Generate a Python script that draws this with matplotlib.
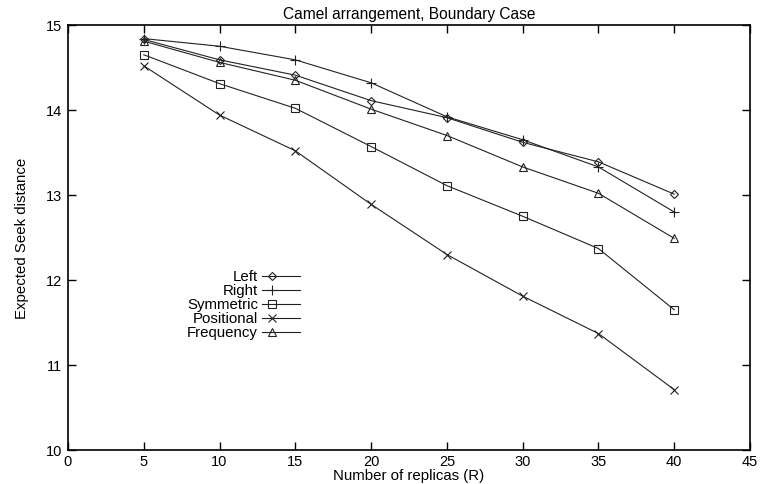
import matplotlib
matplotlib.use("Agg")
import matplotlib.pyplot as plt
from matplotlib.lines import Line2D

plt.rcParams['font.family'] = ['Liberation Sans', 'DejaVu Sans']

replicas = [5, 10, 15, 20, 25, 30, 35, 40]
left = [14.83, 14.59, 14.41, 14.11, 13.91, 13.62, 13.39, 13.01]
right = [14.84, 14.75, 14.59, 14.32, 13.92, 13.65, 13.33, 12.80]
symmetric = [14.65, 14.31, 14.02, 13.57, 13.11, 12.75, 12.37, 11.65]
positional = [14.52, 13.94, 13.52, 12.89, 12.30, 11.81, 11.37, 10.71]
frequency = [14.81, 14.56, 14.35, 14.01, 13.70, 13.33, 13.02, 12.49]
labels = ["Left", "Right", "Symmetric", "Positional", "Frequency"]
xticks = [0, 5, 10, 15, 20, 25, 30, 35, 40, 45]
yticks = [10, 11, 12, 13, 14, 15]

series = [left, right, symmetric, positional, frequency]
markers = ['D', '+', 's', 'x', '^']
msizes = [4, 7, 6, 6, 6]

fig = plt.figure(figsize=(7.62, 4.85), dpi=100)
ax = fig.add_axes([68/762, 1-451/485, (750-68)/762, (451-26)/485])

for vals, m, ms in zip(series, markers, msizes):
    ax.plot(replicas, vals, color='#222222', lw=0.8, marker=m, ms=ms,
            mfc='none', mec='#222222', mew=0.8)

ax.set_xlim(0, 45)
ax.set_ylim(10, 15)
ax.set_xticks(xticks)
ax.set_yticks(yticks)
ax.tick_params(direction='in', top=True, right=True, length=6, width=1,
               labelsize=10.5, pad=4)
ax.tick_params(axis='x', pad=3)
for s in ax.spines.values():
    s.set_linewidth(1.2)
ax.set_title("Camel arrangement, Boundary Case", fontsize=11.2, pad=5)
ax.set_xlabel("Number of replicas (R)", fontsize=10.8, labelpad=0)
ax.set_ylabel("Expected Seek distance", fontsize=10.8, labelpad=12)

# gnuplot-style key: label on left, sample on right
row_y = [277, 291, 305, 319, 333]
for lab, m, ms, py in zip(labels, markers, msizes, row_y):
    yf = (451 - py) / 425
    ax.text((258 - 68) / 682, yf, lab, transform=ax.transAxes, ha='right',
            va='center', fontsize=10.8)
    ax.add_line(Line2D([(262 - 68) / 682, (300 - 68) / 682], [yf, yf],
                       transform=ax.transAxes, color='#222222', lw=0.8))
    ax.add_line(Line2D([(272 - 68) / 682], [yf], transform=ax.transAxes,
                       marker=m, ms=ms, mfc='none', mec='#222222', mew=0.8,
                       lw=0))

fig.savefig("out.png", dpi=100)
